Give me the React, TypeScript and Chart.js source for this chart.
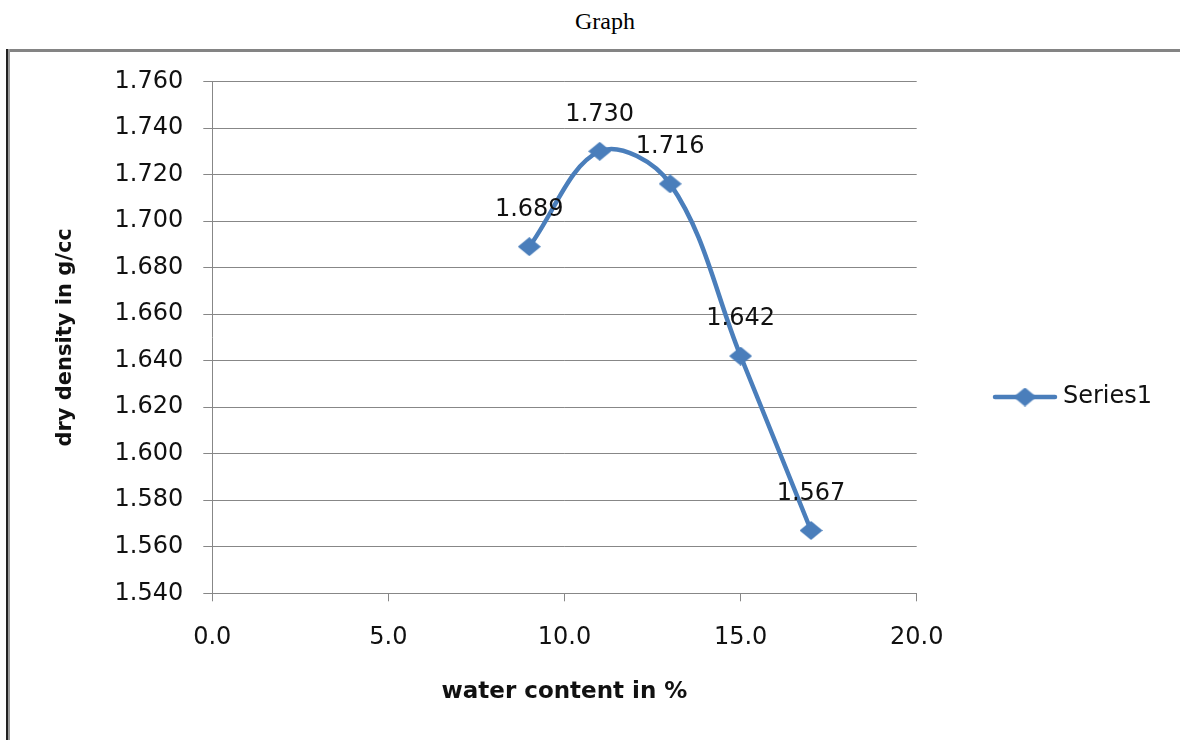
import React, { useEffect, useRef } from "react";
import { Chart, registerables } from "chart.js";

Chart.register(...registerables);

const pageTitle = "Graph";
const seriesLabel = "Series1";
const waterContent = [9, 11, 13, 15, 17];
const dryDensity = [1.689, 1.73, 1.716, 1.642, 1.567];
const xAxisTitle = "water content in %";
const yAxisTitle = "dry density in g/cc";
const xMin = 0;
const xMax = 20;
const xStep = 5;
const yMin = 1.54;
const yMax = 1.76;
const yStep = 0.02;

const BLUE = "#4a7ebb";
const GRID = "#878787";
const FONT = "'DejaVu Sans', sans-serif";

function makeDiamond(w: number, h: number, color: string) {
  const c = document.createElement("canvas");
  c.width = w;
  c.height = h;
  const ctx = c.getContext("2d")!;
  ctx.fillStyle = color;
  ctx.beginPath();
  ctx.moveTo(w / 2, 0);
  ctx.lineTo(w, h / 2);
  ctx.lineTo(w / 2, h);
  ctx.lineTo(0, h / 2);
  ctx.closePath();
  ctx.fill();
  return c;
}

export default function App() {
  const ref = useRef<HTMLCanvasElement | null>(null);

  useEffect(() => {
    if (!ref.current) return;
    const diamond = makeDiamond(23, 19, BLUE);

    const labelsPlugin = {
      id: "valueLabels",
      afterDatasetsDraw(chart: any) {
        const ctx = chart.ctx;
        const meta = chart.getDatasetMeta(0);
        ctx.save();
        ctx.font = `24px ${FONT}`;
        ctx.fillStyle = "#111";
        ctx.textAlign = "center";
        ctx.textBaseline = "middle";
        meta.data.forEach((pt: any, i: number) => {
          ctx.fillText(dryDensity[i].toFixed(3), pt.x, pt.y - 37);
        });
        ctx.restore();
      },
      afterDraw(chart: any) {
        const ctx = chart.ctx;
        const ds = chart.data.datasets[0];
        const ly = 397;
        ctx.save();
        ctx.strokeStyle = ds.borderColor;
        ctx.lineWidth = 4.5;
        ctx.lineCap = "round";
        ctx.beginPath();
        ctx.moveTo(995, ly);
        ctx.lineTo(1055, ly);
        ctx.stroke();
        ctx.drawImage(diamond, 1025 - diamond.width / 2, ly - diamond.height / 2);
        ctx.font = `24px ${FONT}`;
        ctx.fillStyle = "#111";
        ctx.textAlign = "left";
        ctx.textBaseline = "middle";
        ctx.fillText(ds.label, 1063, ly);
        ctx.restore();
      },
    };

    const chart = new Chart(ref.current, {
      type: "line",
      data: {
        datasets: [
          {
            label: seriesLabel,
            data: waterContent.map((x, i) => ({ x, y: dryDensity[i] })),
            borderColor: BLUE,
            backgroundColor: BLUE,
            borderWidth: 4.5,
            tension: 0.36,
            pointStyle: diamond as any,
            pointRadius: 10,
            fill: false,
          },
        ],
      },
      options: {
        animation: false,
        responsive: true,
        maintainAspectRatio: false,
        layout: { padding: { top: 81.5, left: 40, right: 263.3, bottom: 30 } },
        plugins: {
          legend: { display: false },
          tooltip: { enabled: false },
          title: { display: false },
        },
        scales: {
          x: {
            type: "linear",
            min: xMin,
            max: xMax,
            afterFit(scale: any) {
              scale.height = 740 - 30 - 593.3;
            },
            ticks: {
              stepSize: xStep,
              padding: 22,
              color: "#111",
              font: { family: FONT, size: 24 },
              callback: (v: any) => Number(v).toFixed(1),
            },
            grid: {
              drawOnChartArea: false,
              drawTicks: true,
              tickLength: 8,
              color: GRID,
              lineWidth: 1,
            },
            border: { display: true, color: GRID, width: 1 },
            title: {
              display: true,
              text: xAxisTitle,
              color: "#111",
              font: { family: FONT, size: 23, weight: "bold" },
              padding: { top: 0, bottom: 4 },
            },
          },
          y: {
            type: "linear",
            min: yMin,
            max: yMax,
            afterFit(scale: any) {
              scale.width = 212.3 - 40;
            },
            ticks: {
              stepSize: yStep,
              padding: 20,
              color: "#111",
              font: { family: FONT, size: 24 },
              callback: (v: any) => Number(v).toFixed(3),
            },
            grid: {
              drawOnChartArea: true,
              drawTicks: true,
              tickLength: 9,
              color: GRID,
              lineWidth: 1,
            },
            border: { display: true, color: GRID, width: 1 },
            title: {
              display: true,
              text: yAxisTitle,
              color: "#111",
              font: { family: FONT, size: 21, weight: "bold" },
              padding: { top: 13, bottom: 0 },
            },
          },
        },
      },
      plugins: [labelsPlugin],
    });
    return () => chart.destroy();
  }, []);

  return (
    <div
      style={{
        position: "fixed",
        left: 0,
        top: 0,
        width: 1180,
        height: 740,
        background: "#fff",
        overflow: "hidden",
      }}
    >
      <div
        style={{
          position: "absolute",
          left: 505,
          width: 200,
          top: 9,
          textAlign: "center",
          fontFamily: "'Liberation Serif', 'Times New Roman', serif",
          fontSize: 24,
          lineHeight: "24px",
          color: "#000",
        }}
      >
        {pageTitle}
      </div>
      <div
        style={{
          position: "absolute",
          left: 6,
          top: 49,
          width: 1180,
          height: 2.5,
          background: "#848484",
        }}
      />
      <div
        style={{
          position: "absolute",
          left: 6,
          top: 49,
          width: 2,
          height: 700,
          background: "#222",
        }}
      />
      <div
        style={{
          position: "absolute",
          left: 8,
          top: 49,
          width: 2,
          height: 700,
          background: "#9a9a9a",
        }}
      />
      <canvas
        ref={ref}
        style={{ position: "absolute", left: 0, top: 0, width: 1180, height: 740 }}
      />
    </div>
  );
}
